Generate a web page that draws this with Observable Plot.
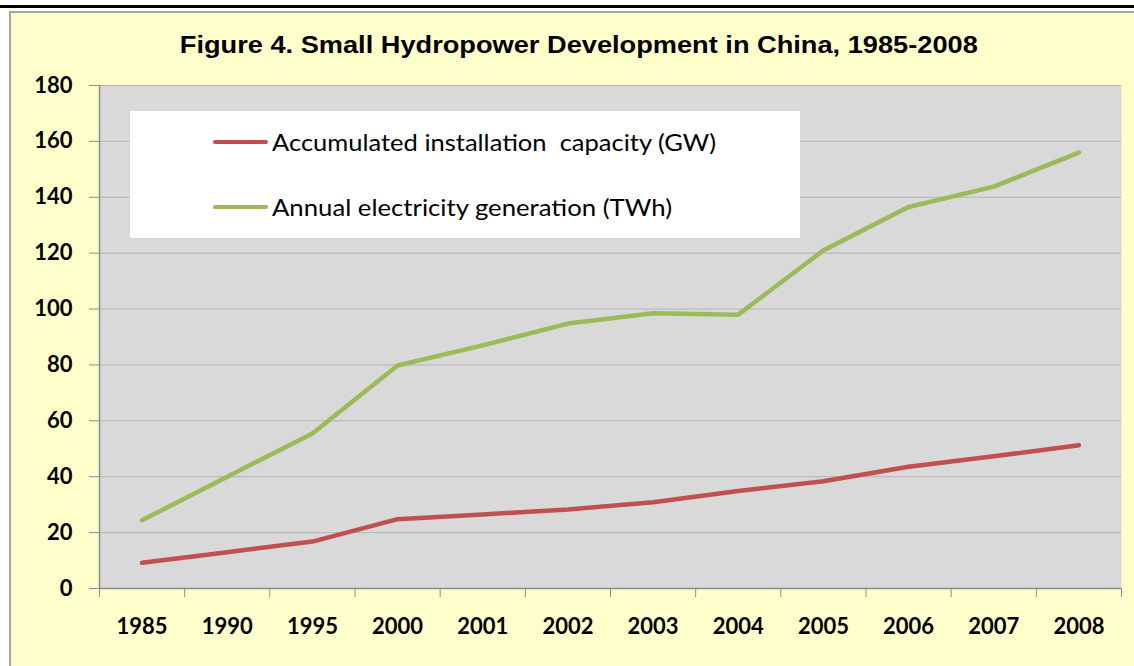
<!DOCTYPE html>
<html>
<head>
<meta charset="utf-8">
<script src="https://cdn.jsdelivr.net/npm/d3@7"></script>
<script src="https://cdn.jsdelivr.net/npm/@observablehq/plot@0.6"></script>
<style>
  html, body { margin: 0; padding: 0; }
  body { width: 1134px; height: 666px; overflow: hidden; position: relative; background: #fff; font-family: Lato, "Open Sans", sans-serif; }
  #topline { position: absolute; left: 0; top: 5px; width: 1134px; height: 3px; background: #000; }
  #panel { position: absolute; left: 9px; top: 11px; width: 1125px; height: 655px; background: #FFFFCC; border-left: 2px solid #A6A6A6; border-top: 2px solid #A6A6A6; box-sizing: border-box; }
  #title { position: absolute; left: 79px; top: 31px; width: 1000px; text-align: center; white-space: nowrap; font: bold 23.5px "Liberation Sans", Arial, sans-serif; color: #000; line-height: 28px; }
  #title span { display: inline-block; transform-origin: 50% 50%; }
  #chart { position: absolute; left: 10px; top: 70px; }
  #legend { position: absolute; left: 130px; top: 111px; width: 670px; height: 127px; background: #fff; }
  .item { position: absolute; left: 83px; height: 30px; display: flex; align-items: center; }
  .swatch { width: 55px; height: 4px; border-radius: 2px; margin-right: 4px; flex: none; }
  .label { display: inline-block; font: 400 23.5px Lato, sans-serif; color: #000; white-space: pre; transform-origin: 0 50%; }
</style>
</head>
<body>
<div id="topline"></div>
<div id="panel"></div>
<div id="title"><span>Figure 4. Small Hydropower Development in China, 1985-2008</span></div>
<div id="chart"></div>
<div id="legend"></div>
<script>
// ---- data ----
const years = ["1985","1990","1995","2000","2001","2002","2003","2004","2005","2006","2007","2008"];
const capacity = [9.2, 13.0, 16.8, 24.8, 26.5, 28.3, 30.9, 34.9, 38.4, 43.6, 47.3, 51.3];
const generation = [24.4, 40.0, 55.5, 79.8, 87.0, 94.8, 98.5, 98.0, 121.0, 136.5, 143.8, 156.0];
const seriesNames = ["Accumulated installation  capacity (GW)", "Annual electricity generation (TWh)"];
const seriesColors = ["#C0504D", "#9BBB59"];
const yTicks = [0, 20, 40, 60, 80, 100, 120, 140, 160, 180];

const rows = [];
years.forEach((yr, i) => {
  rows.push({i, year: yr, series: seriesNames[0], value: capacity[i]});
  rows.push({i, year: yr, series: seriesNames[1], value: generation[i]});
});

const bandEdges = d3.range(0, years.length + 1);
const bandCenters = d3.range(0, years.length).map(i => i + 0.5);

const chart = Plot.plot({
  width: 1124,
  height: 596,
  marginLeft: 89,
  marginRight: 13,
  marginTop: 15,
  marginBottom: 78,
  style: { background: "transparent", fontFamily: "Lato, sans-serif", fontSize: "22px", fontWeight: "bold", color: "#000" },
  x: { type: "linear", domain: [0, years.length], axis: null, label: null },
  y: { domain: [0, 180], axis: null, label: null },
  color: { domain: seriesNames, range: seriesColors },
  marks: [
    Plot.frame({ fill: "#D9D9D9", stroke: "none" }),
    Plot.ruleY(yTicks.filter(v => v > 0), { stroke: "#B4B4B4", strokeWidth: 1 }),
    Plot.axisY(yTicks, { anchor: "left", tickSize: 10, tickPadding: 17, stroke: "#8C8C8C", fill: "#000", label: null, fontWeight: "bold", fontSize: 22 }),
    Plot.axisX(bandEdges, { anchor: "bottom", tickSize: 9, tickFormat: () => "", stroke: "#8C8C8C", label: null }),
    Plot.axisX(bandCenters, { anchor: "bottom", tickSize: 0, tickPadding: 30, tickFormat: v => years[Math.floor(v)], fill: "#000", label: null, fontWeight: "bold", fontSize: 22 }),
    Plot.ruleX([0], { stroke: "#8C8C8C", strokeWidth: 1.5 }),
    Plot.ruleY([0], { stroke: "#8C8C8C", strokeWidth: 1.5 }),
    Plot.line(rows, { x: d => d.i + 0.5, y: "value", z: "series", stroke: "series", strokeWidth: 4.5, strokeLinecap: "round", strokeLinejoin: "round" })
  ]
});
document.getElementById("chart").appendChild(chart);

// ---- legend ----
const legend = document.getElementById("legend");
const legendTops = [16, 81];
const targetWidths = [444, 400];
seriesNames.forEach((name, k) => {
  const item = document.createElement("div");
  item.className = "item";
  item.style.top = legendTops[k] + "px";
  const sw = document.createElement("div");
  sw.className = "swatch";
  sw.style.background = seriesColors[k];
  const lab = document.createElement("span");
  lab.className = "label";
  lab.textContent = name;
  item.appendChild(sw);
  item.appendChild(lab);
  legend.appendChild(item);
  const w = lab.getBoundingClientRect().width;
  lab.style.transform = "scaleX(" + (targetWidths[k] / w) + ")";
});

// fit title width
const span = document.querySelector("#title span");
const tw = span.getBoundingClientRect().width;
span.style.transform = "scaleX(" + (798 / tw) + ")";
</script>
</body>
</html>
